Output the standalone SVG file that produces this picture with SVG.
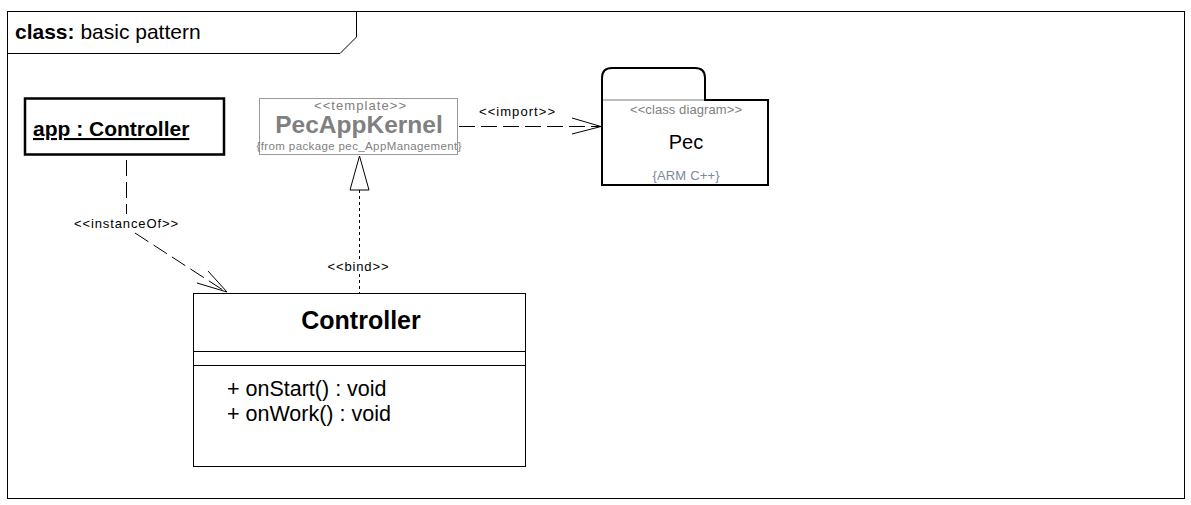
<svg xmlns="http://www.w3.org/2000/svg" width="1191" height="505" viewBox="0 0 1191 505">
<style>
text{font-family:"Liberation Sans",Arial,sans-serif;}
.ln{fill:none;stroke:#000;stroke-width:1}
.dash{fill:none;stroke:#000;stroke-width:1;stroke-dasharray:16 6}
.dot{fill:none;stroke:#000;stroke-width:1;stroke-dasharray:3 3}
.lbl{font-size:13px;fill:#000;text-anchor:middle}
.gray{fill:#808080}
</style>
<rect width="1191" height="505" fill="#fff"/>
<g id="frame">
<rect x="7.5" y="11.5" width="1177" height="487" class="ln"/>
<path d="M7.5 53.5 H340 L356.5 37 V11.5" class="ln"/>
<text x="15" y="39" font-size="21"><tspan font-weight="bold">class:</tspan> basic pattern</text>
</g>
<g id="app">
<rect x="25" y="98.5" width="199" height="56" fill="#fff" stroke="#000" stroke-width="2.5"/>
<text x="33" y="136" font-size="21" font-weight="bold" text-decoration="underline">app : Controller</text>
</g>
<g id="PecAppKernel">
<rect x="259.5" y="98.5" width="198" height="56" fill="#fff" stroke="#9a9a9a" stroke-width="1"/>
<text x="360" y="110" font-size="13" class="gray" text-anchor="middle" textLength="92" lengthAdjust="spacing">&lt;&lt;template&gt;&gt;</text>
<text x="359" y="133" font-size="24.5" font-weight="bold" fill="#808080" text-anchor="middle">PecAppKernel</text>
<text x="359" y="150" font-size="11.5" fill="#808080" text-anchor="middle" textLength="205" lengthAdjust="spacing">{from package pec_AppManagement}</text>
</g>
<g id="Pec">
<path d="M602 100 V78 Q602 68 612 68 H695 Q705 68 705 78 V100" fill="#fff" stroke="#000" stroke-width="2"/>
<rect x="602" y="100" width="166" height="85" fill="#fff" stroke="#000" stroke-width="2"/>
<line x1="603" y1="100" x2="704" y2="100" stroke="#bdbdbd" stroke-width="2"/>
<text x="686" y="114" font-size="13" fill="#808080" text-anchor="middle" textLength="112" lengthAdjust="spacing">&lt;&lt;class diagram&gt;&gt;</text>
<text x="686" y="149" font-size="20" fill="#000" text-anchor="middle">Pec</text>
<text x="686" y="180" font-size="13" fill="#7a8aa0" text-anchor="middle" textLength="67" lengthAdjust="spacing">{ARM C++}</text>
</g>
<g id="Controller">
<rect x="193.5" y="293.5" width="332" height="173" fill="#fff" stroke="#000" stroke-width="1"/>
<line x1="193.5" y1="351.5" x2="525.5" y2="351.5" stroke="#000"/>
<line x1="193.5" y1="365.5" x2="525.5" y2="365.5" stroke="#000"/>
<text x="361" y="329" font-size="25" font-weight="bold" text-anchor="middle">Controller</text>
<text x="227" y="396" font-size="21.5">+ onStart() : void</text>
<text x="227" y="421" font-size="21.5">+ onWork() : void</text>
</g>
<g id="connectors">
<!-- instanceOf -->
<line x1="126.5" y1="160" x2="126.5" y2="214" class="dash"/>
<line x1="135" y1="233" x2="226" y2="292" class="dash"/>
<path d="M208 271 L227 292 L197 283" class="ln"/>
<text x="126" y="228" class="lbl" textLength="104" lengthAdjust="spacing">&lt;&lt;instanceOf&gt;&gt;</text>
<!-- import -->
<line x1="459" y1="126.5" x2="600" y2="126.5" class="dash"/>
<path d="M572 118 L601 126.5 L572 134" class="ln"/>
<text x="517" y="116" class="lbl" textLength="76" lengthAdjust="spacing">&lt;&lt;import&gt;&gt;</text>
<!-- bind -->
<line x1="359.5" y1="190" x2="359.5" y2="293" class="dot"/>
<polygon points="359.5,156 350,190 369,190" fill="#fff" stroke="#000" stroke-width="1"/>
<rect x="327" y="259" width="64" height="15" fill="#fff"/>
<text x="358" y="271" class="lbl" textLength="61" lengthAdjust="spacing">&lt;&lt;bind&gt;&gt;</text>
</g>
</svg>
